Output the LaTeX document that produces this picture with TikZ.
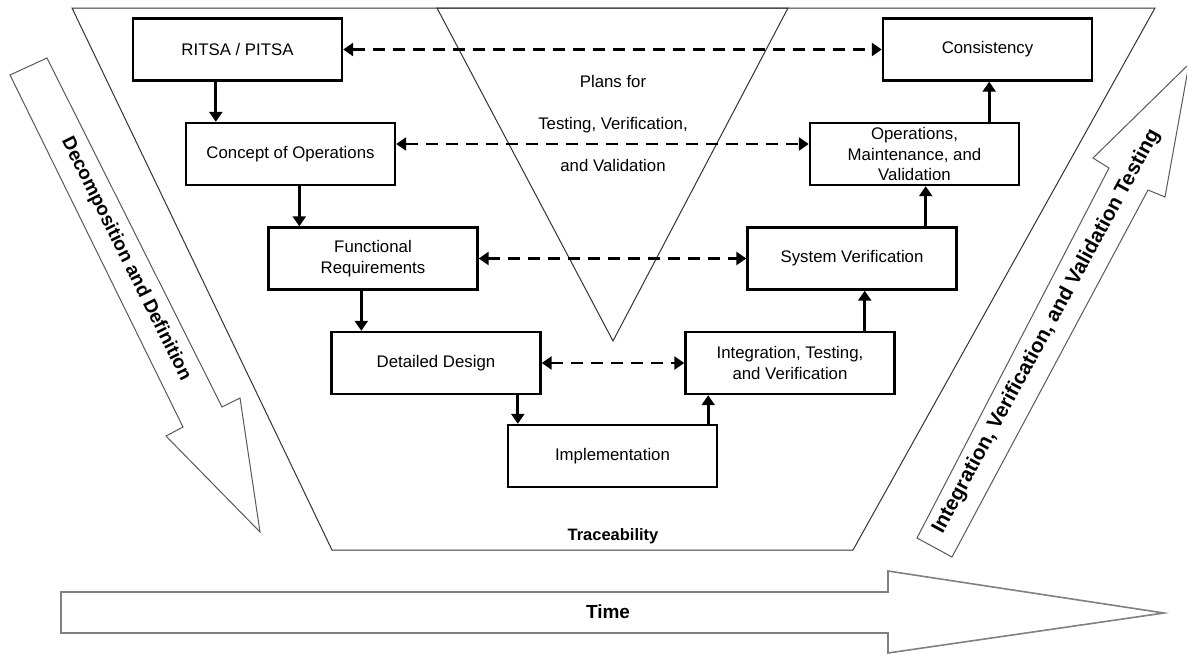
\documentclass[tikz,border=0pt]{standalone}
\usepackage{fontspec}
\setmainfont{Liberation Sans}
\usetikzlibrary{arrows.meta}
\begin{document}
\begin{tikzpicture}[x=1pt,y=-1pt,
  box/.style={draw=black,line width=2.4pt,fill=white,minimum width=209pt,minimum height=62pt,inner sep=2pt,align=center,font=\fontsize{16.8}{20.5}\selectfont},
  conn/.style={line width=2.8pt,-{Triangle[length=10pt,width=13pt]}},
  dconn/.style={line width=2.8pt,dash pattern=on 12pt off 8pt,{Triangle[length=10pt,width=13pt]}-{Triangle[length=10pt,width=13pt]}},
  outline/.style={draw=black!80,line width=1pt},
  bigarrow/.style={draw=black!65,line width=1pt,fill=white},
  timearrow/.style={draw=black!50,line width=1.6pt,fill=white},
  boldlbl/.style={font=\bfseries\fontsize{19}{22}\selectfont,inner sep=0pt}
]
\useasboundingbox (0,0) rectangle (1187,654);
\fill[white] (0,0) rectangle (1187,654);

% trapezoid and triangle
\draw[outline] (72,8) -- (1155,8) -- (853,550) -- (332,550) -- cycle;
\draw[outline] (437,8) -- (788,8) -- (613,341) -- cycle;

% big arrows
\draw[bigarrow] (10,75) -- (47,58) -- (222,407) -- (240,398) -- (260,532) -- (166,436) -- (183,427) -- cycle;
\draw[bigarrow] (917,538) -- (1109,168) -- (1093,158) -- (1189,64) -- (1165,197) -- (1148,190) -- (952,557) -- cycle;
\draw[timearrow] (61,592) -- (888,592) -- (888,571) -- (1164,613) -- (888,653) -- (888,633) -- (61,633) -- cycle;

\node[boldlbl,rotate=-63.5] (decomp) at (126,259) {Decomposition and Definition};
\node[boldlbl,font=\bfseries\fontsize{20.5}{24}\selectfont,rotate=61.5] (integtest) at (1046.5,331.5) {Integration, Verification, and Validation Testing};
\node[boldlbl] (time) at (608,612) {Time};
\node[font=\bfseries\fontsize{16.5}{20}\selectfont,inner sep=0pt] (trace) at (613,536) {Traceability};
\node[align=center,font=\fontsize{16.8}{42}\selectfont] (plans) at (613,123) {Plans for\\Testing, Verification,\\and Validation};

% boxes
\node[box] (ritsa) at (237.5,49.5) {RITSA / PITSA};
\node[box] (concept) at (290.5,154) {Concept of Operations};
\node[box] (func) at (373,258.5) {Functional\\Requirements};
\node[box] (detail) at (436,363) {Detailed Design};
\node[box] (impl) at (612.5,456) {Implementation};
\node[box] (integ) at (790,363) {Integration, Testing,\\and Verification};
\node[box] (sysver) at (852,258.5) {System Verification};
\node[box] (ops) at (914.5,154) {Operations,\\Maintenance, and\\Validation};
\node[box] (cons) at (987.5,49.5) {Consistency};

% solid arrows
\coordinate (a1) at ([xshift=31pt]concept.north west);
\draw[conn] (ritsa.south -| a1) -- (a1);
\coordinate (a2) at ([xshift=32pt]func.north west);
\draw[conn] (concept.south -| a2) -- (a2);
\coordinate (a3) at ([xshift=31pt]detail.north west);
\draw[conn] (func.south -| a3) -- (a3);
\coordinate (a4) at ([xshift=11pt]impl.north west);
\draw[conn] (detail.south -| a4) -- (a4);
\coordinate (a5) at ([xshift=-10pt]impl.north east);
\draw[conn] (a5) -- (integ.south -| a5);
\coordinate (a6) at ([xshift=-31pt]integ.north east);
\draw[conn] (a6) -- (sysver.south -| a6);
\coordinate (a7) at ([xshift=-32pt]sysver.north east);
\draw[conn] (a7) -- (ops.south -| a7);
\coordinate (a8) at ([xshift=-31pt]ops.north east);
\draw[conn] (a8) -- (cons.south -| a8);

% dashed arrows
\draw[dconn] (ritsa.east) -- (cons.west);
\draw[dconn] ([yshift=10pt]concept.east) -- ([yshift=10pt]ops.west);
\draw[dconn] (func.east) -- (sysver.west);
\draw[dconn] (detail.east) -- (integ.west);
\end{tikzpicture}
\end{document}
